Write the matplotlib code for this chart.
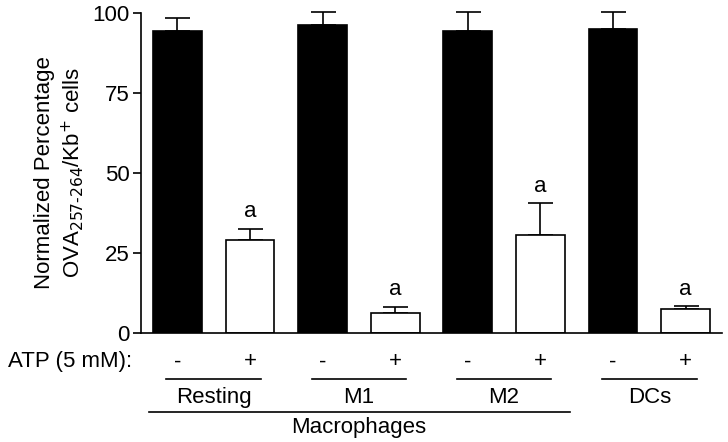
import matplotlib
matplotlib.use('Agg')
import matplotlib.pyplot as plt
import matplotlib.transforms as mtransforms

plt.rcParams['font.family'] = ['Liberation Sans', 'DejaVu Sans']

# Data
groups = ['Resting', 'M1', 'M2', 'DCs']
atp = ['-', '+', '-', '+', '-', '+', '-', '+']
means = [94.4, 29.1, 96.1, 6.1, 94.4, 30.7, 94.9, 7.5]
errs = [4.0, 3.5, 4.2, 2.1, 6.0, 9.8, 5.5, 0.8]
signif = ['', 'a', '', 'a', '', 'a', '', 'a']

fs = 16

fig = plt.figure(figsize=(7.28, 4.42), dpi=100)
ax = fig.add_axes([0.1937, 0.2466, 0.798, 0.724])

x = list(range(len(means)))
colors = ['black' if s == '-' else 'white' for s in atp]
ax.bar(x, means, width=0.67, color=colors, edgecolor='black', linewidth=1.2, zorder=2)
ax.errorbar(x, means, yerr=[[0] * len(errs), errs], fmt='none', ecolor='black',
            elinewidth=1.2, capsize=9, capthick=1.2, clip_on=False, zorder=1)

for xi, m, e, s in zip(x, means, errs, signif):
    if s:
        ax.text(xi, m + e + 2, s, ha='center', va='bottom', fontsize=fs)

ax.set_xlim(-0.5, 7.5)
ax.set_ylim(0, 100)
ax.set_yticks([0, 25, 50, 75, 100])
ax.tick_params(axis='y', labelsize=fs, width=1.2, length=6, direction='out', pad=2)
ax.set_xticks([])
for side in ['top', 'right']:
    ax.spines[side].set_visible(False)
for side in ['left', 'bottom']:
    ax.spines[side].set_linewidth(1.2)

ax.set_ylabel('Normalized Percentage\nOVA$_{257\\text{-}264}$/Kb$^{+}$ cells', fontsize=fs,
              linespacing=1.2)
ax.yaxis.set_label_coords(-0.094, 0.5)

# labels under the axis
trans = mtransforms.blended_transform_factory(ax.transData, ax.transAxes)
ax.text(-0.62, -0.09, 'ATP (5 mM):', transform=trans, ha='right', va='center', fontsize=fs)
for xi, s in zip(x, atp):
    ax.text(xi, -0.09, s, transform=trans, ha='center', va='center', fontsize=fs)

for i, g in enumerate(groups):
    left, right = 2 * i - 0.15, 2 * i + 1.15
    ax.plot([left, right], [-0.145, -0.145], color='black', lw=1.2,
            transform=trans, clip_on=False)
    ax.text(2 * i + 0.5, -0.2, g, transform=trans, ha='center', va='center', fontsize=fs)

ax.plot([-0.39, 5.41], [-0.247, -0.247], color='black', lw=1.2,
        transform=trans, clip_on=False)
ax.text(2.5, -0.295, 'Macrophages', transform=trans, ha='center', va='center', fontsize=fs)

plt.savefig('out.png', dpi=100)
plt.close()
